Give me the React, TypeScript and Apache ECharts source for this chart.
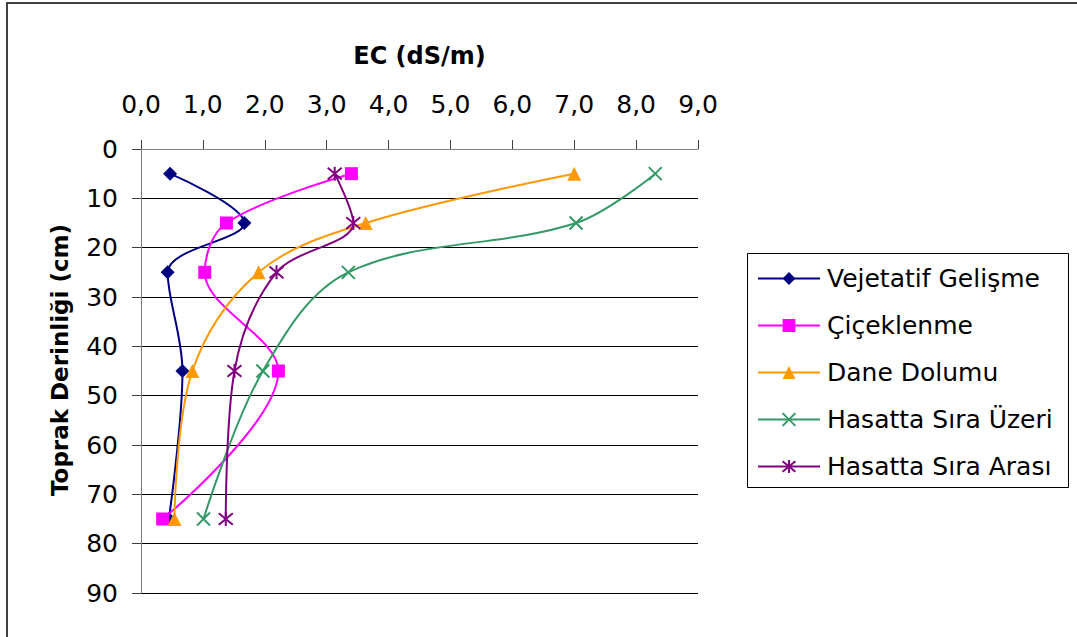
import React, { useEffect, useRef } from "react";
import * as echarts from "echarts";

const depths = [5, 15, 25, 45, 75];
const seriesNames = [
  "Vejetatif Gelişme",
  "Çiçeklenme",
  "Dane Dolumu",
  "Hasatta Sıra Üzeri",
  "Hasatta Sıra Arası",
];
const vejetatif = [0.47, 1.67, 0.43, 0.67, 0.45];
const ciceklenme = [3.4, 1.38, 1.03, 2.22, 0.35];
const daneDolumu = [7.0, 3.63, 1.9, 0.83, 0.54];
const hasattaUzeri = [8.31, 7.03, 3.35, 1.97, 1.01];
const hasattaArasi = [3.13, 3.43, 2.19, 1.51, 1.37];

const xTitle = "EC (dS/m)";
const yTitle = "Toprak Derinliği (cm)";

const FONT = "DejaVu Sans";

export default function App() {
  const ref = useRef<HTMLDivElement>(null);

  useEffect(() => {
    if (!ref.current) return;
    const chart = echarts.init(ref.current, undefined, { renderer: "svg" });

    const values = [vejetatif, ciceklenme, daneDolumu, hasattaUzeri, hasattaArasi];
    const colors = ["#000080", "#FF00FF", "#FF9900", "#339966", "#800080"];
    const symbols = [
      "diamond",
      "rect",
      "triangle",
      "path://M0,0L10,10M10,0L0,10",
      "path://M0,0L10,10M10,0L0,10M5,-1L5,11",
    ];
    const sizes = [14, 13, 14, 13, 14];

    const series = values.map((vals, si) => {
      const stroke = si >= 3;
      return {
        name: seriesNames[si],
        type: "line",
        smooth: 0.35,
        data: depths.map((d, i) => [vals[i], d]),
        symbol: symbols[si],
        symbolSize: sizes[si],
        showAllSymbol: true,
        lineStyle: { color: colors[si], width: 2 },
        itemStyle: stroke
          ? { color: colors[si], borderColor: colors[si], borderWidth: 2 }
          : { color: colors[si], borderWidth: 0 },
        emphasis: { disabled: true },
        z: 3 + si,
      };
    });

    chart.setOption({
      animation: false,
      backgroundColor: "#ffffff",
      textStyle: { fontFamily: FONT },
      grid: { left: 141, top: 149, right: 379, bottom: 44, containLabel: false },
      xAxis: {
        type: "value",
        position: "top",
        min: 0,
        max: 9,
        interval: 1,
        name: xTitle,
        nameLocation: "middle",
        nameGap: 81,
        nameTextStyle: { fontFamily: FONT, fontSize: 24, fontWeight: "bold", color: "#000" },
        axisLine: { show: true, lineStyle: { color: "#808080", width: 1 } },
        axisTick: { show: true, inside: false, length: 9, lineStyle: { color: "#404040" } },
        axisLabel: {
          fontFamily: FONT,
          fontSize: 25,
          color: "#000",
          margin: 32,
          formatter: (v: number) => v.toFixed(1).replace(".", ","),
        },
        splitLine: { show: false },
      },
      yAxis: {
        type: "value",
        inverse: true,
        min: 0,
        max: 90,
        interval: 10,
        name: yTitle,
        nameLocation: "middle",
        nameGap: 70,
        nameTextStyle: {
          fontFamily: FONT,
          fontSize: 23,
          fontWeight: "bold",
          color: "#000",
          padding: [0, 0, 0, 22],
        },
        axisLine: { show: true, lineStyle: { color: "#808080", width: 1 } },
        axisTick: { show: true, inside: false, length: 9, lineStyle: { color: "#404040" } },
        axisLabel: { fontFamily: FONT, fontSize: 25, color: "#000", margin: 23 },
        splitLine: { show: true, lineStyle: { color: "#000", width: 1 } },
      },
      legend: {
        orient: "vertical",
        left: 757,
        top: 266,
        padding: 0,
        itemWidth: 62,
        itemHeight: 16,
        itemGap: 22,
        textStyle: { fontFamily: FONT, fontSize: 25, lineHeight: 25, color: "#000", padding: [0, 0, 0, 2] },
        data: seriesNames,
        selectedMode: false,
      },
      graphic: [
        {
          type: "rect",
          shape: { x: 7, y: 3, width: 1100, height: 700 },
          style: { fill: "none", stroke: "#404040", lineWidth: 2 },
          silent: true,
        },
        {
          type: "rect",
          shape: { x: 747.5, y: 253.5, width: 321, height: 234 },
          style: { fill: "none", stroke: "#000", lineWidth: 1 },
          silent: true,
        },
      ],
      series,
    });

    return () => chart.dispose();
  }, []);

  return (
    <div
      ref={ref}
      style={{ position: "fixed", left: 0, top: 0, width: 1077, height: 637, background: "#fff" }}
    />
  );
}
